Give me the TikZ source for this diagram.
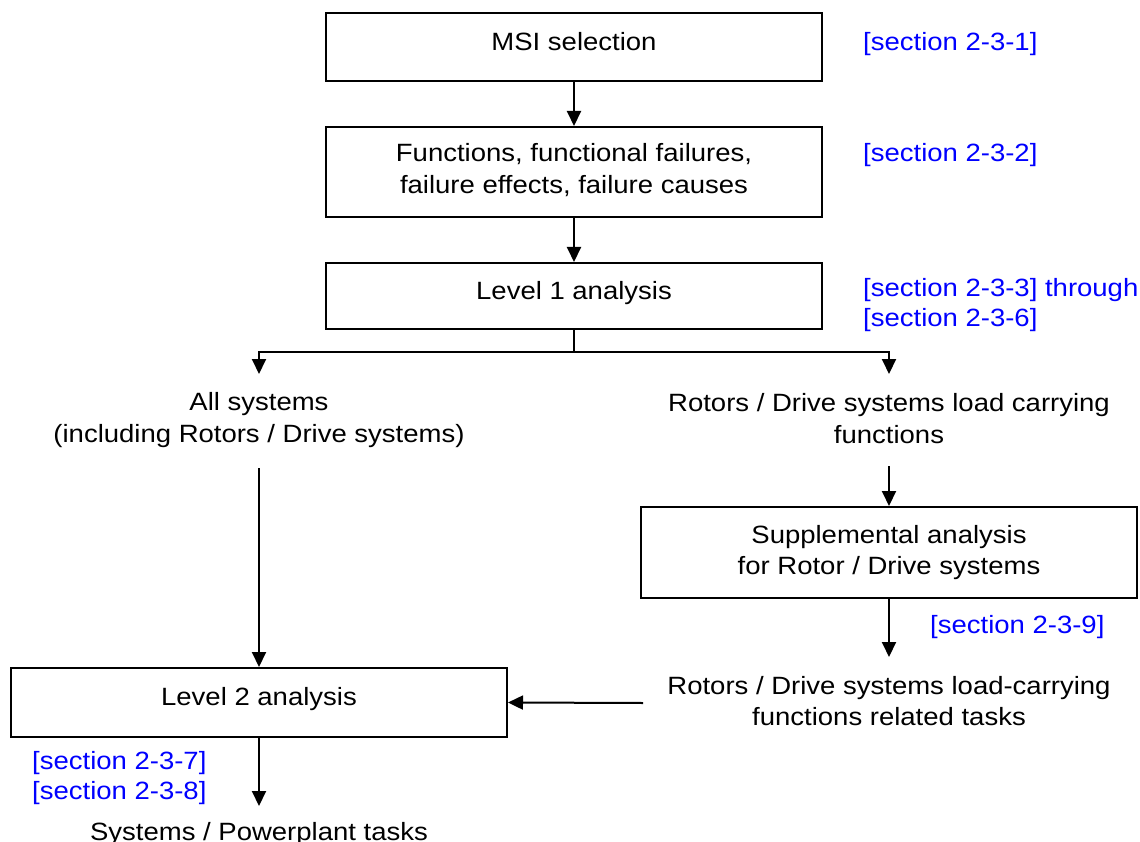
\documentclass[tikz,border=0pt]{standalone}
\usepackage{fontspec}
\setmainfont{Liberation Sans}[FakeStretch=1.1]
\usetikzlibrary{arrows.meta}
\definecolor{secblue}{RGB}{0,0,255}
\begin{document}
\begin{tikzpicture}[x=1pt,y=-1pt,
  box/.style={draw, line width=2pt, inner sep=0pt, minimum width=496pt},
  txt/.style={inner sep=0pt, font=\fontsize{25}{32}\selectfont, anchor=base},
  sec/.style={inner sep=0pt, font=\fontsize{25}{29}\selectfont, text=secblue, anchor=base west},
  arr/.style={-{Triangle[length=15pt,width=14pt]}, line width=2pt},
  ln/.style={line width=2pt}]
\useasboundingbox (0,0) rectangle (1140,842);

% boxes
\node[box, minimum height=68pt] (msi)  at (574,47) {};
\node[box, minimum height=90pt] (func) at (574,172) {};
\node[box, minimum height=66pt] (lvl1) at (574,296) {};
\node[box, minimum height=91pt] (supp) at (889,552.5) {};
\node[box, minimum height=69pt] (lvl2) at (259,702.5) {};

% box texts
\node[txt] (msiT)  at (574,51) {MSI selection};
\node[txt] (funcT) at (574,162) {\begin{tabular}[t]{@{}c@{}}Functions, functional failures,\\failure effects, failure causes\end{tabular}};
\node[txt] (lvl1T) at (574,299) {Level 1 analysis};
\node[txt, font=\fontsize{25}{31}\selectfont] (suppT) at (889,543) {\begin{tabular}[t]{@{}c@{}}Supplemental analysis\\for Rotor / Drive systems\end{tabular}};
\node[txt] (lvl2T) at (259,705) {Level 2 analysis};

% free texts
\node[txt] (allsys) at (259,410) {\begin{tabular}[t]{@{}c@{}}All systems\\(including Rotors / Drive systems)\end{tabular}};
\node[txt] (rdl) at (889,411) {\begin{tabular}[t]{@{}c@{}}Rotors / Drive systems load carrying\\functions\end{tabular}};
\node[txt, font=\fontsize{25}{31}\selectfont] (rdlt) at (889,694) {\begin{tabular}[t]{@{}c@{}}Rotors / Drive systems load-carrying\\functions related tasks\end{tabular}};
\node[txt] (sysT) at (259,840) {Systems / Powerplant tasks};

% section references
\node[sec] (s1) at (863,51) {[section 2-3-1]};
\node[sec] (s2) at (863,162) {[section 2-3-2]};
\node[sec] (s3) at (863,297) {\begin{tabular}[t]{@{}l@{}}[section 2-3-3] through\\{}[section 2-3-6]\end{tabular}};
\node[sec] (s9) at (930,633) {[section 2-3-9]};
\node[sec, font=\fontsize{25}{30}\selectfont] (s78) at (32,769) {\begin{tabular}[t]{@{}l@{}}[section 2-3-7]\\{}[section 2-3-8]\end{tabular}};

% connector coordinates
\coordinate (split) at (574,352);
\coordinate (tipL) at (259,374);
\coordinate (tipR) at (889,374);
\coordinate (startL) at (259,468);
\coordinate (startR) at (889,466);
\coordinate (tipRT) at (889,657);
\coordinate (startH) at (643,703);
\coordinate (tipSys) at (259,806);

% connectors
\draw[arr] (msi.south) -- (func.north);
\draw[arr] (func.south) -- (lvl1.north);
\draw[ln] (lvl1.south) -- (split);
\draw[arr] (split) -| (tipL);
\draw[arr] (split) -| (tipR);
\draw[arr] (startL) -- (lvl2.north);
\draw[arr] (startR) -- (supp.north);
\draw[arr] (supp.south) -- (tipRT);
\draw[arr] (startH) -- (lvl2.east);
\draw[arr] (lvl2.south) -- (tipSys);
\end{tikzpicture}
\end{document}
